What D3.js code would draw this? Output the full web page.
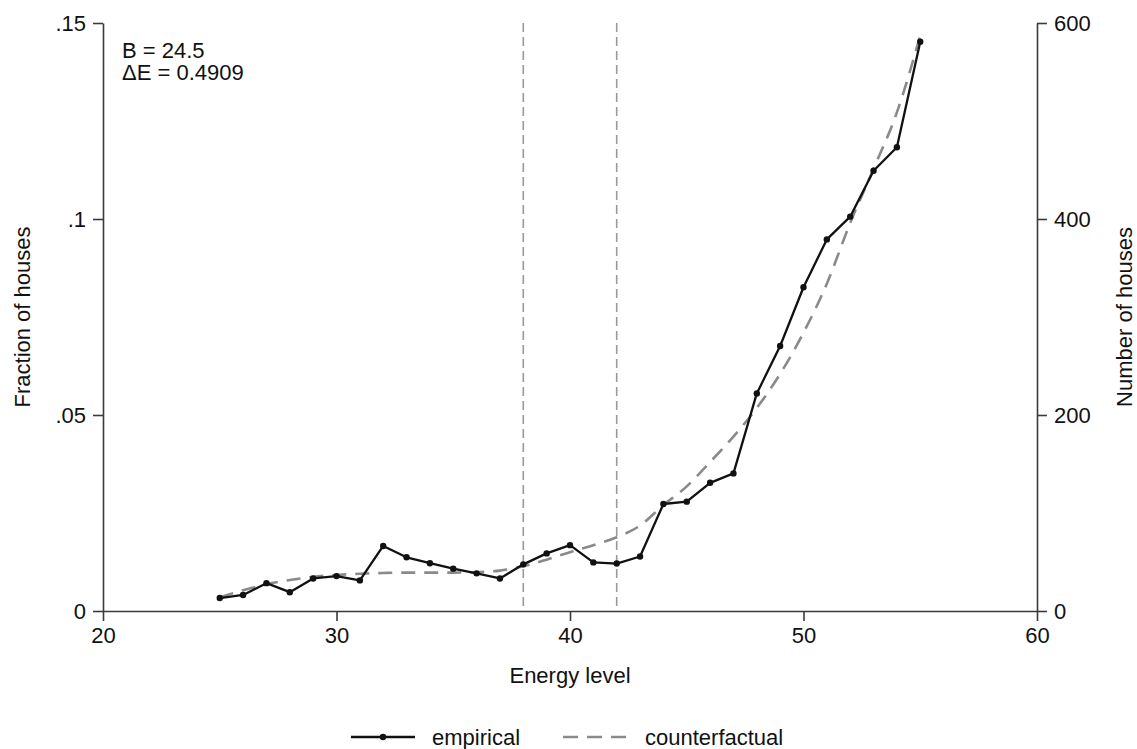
<!DOCTYPE html>
<html>
<head>
<meta charset="utf-8">
<script src="https://cdn.jsdelivr.net/npm/d3@7"></script>
<style>
  body { margin: 0; background: #fff; }
  svg text { font-family: "Liberation Sans", Arial, sans-serif; fill: #111; }
</style>
</head>
<body>
<svg id="chart" width="1137" height="749"></svg>
<script>
// Energy levels (x)
const energy = [25, 26, 27, 28, 29, 30, 31, 32, 33, 34, 35, 36, 37, 38, 39, 40,
                41, 42, 43, 44, 45, 46, 47, 48, 49, 50, 51, 52, 53, 54, 55];

// Empirical fraction of houses
const empirical = [0.0033, 0.0041, 0.0071, 0.0048, 0.0083, 0.0089, 0.0078, 0.0166,
                   0.0137, 0.0122, 0.0108, 0.0096, 0.0083, 0.0119, 0.0147, 0.0168,
                   0.0124, 0.0121, 0.0139, 0.0273, 0.0279, 0.0327, 0.0351, 0.0555,
                   0.0676, 0.0826, 0.0948, 0.1006, 0.1123, 0.1183, 0.1452];

// Counterfactual fraction of houses
const counterfactual = [0.0035, 0.0053, 0.0068, 0.0079, 0.0087, 0.0092, 0.0095, 0.0097,
                        0.0098, 0.0098, 0.0098, 0.0099, 0.0103, 0.0114, 0.0131, 0.0150,
                        0.0168, 0.0188, 0.0218, 0.0270, 0.0318, 0.0380, 0.0445, 0.0518,
                        0.0605, 0.0710, 0.0835, 0.0990, 0.1128, 0.1272, 0.1468];

// Bunching window bounds
const bounds = [38, 42];

// Tick values
const xTicks = [20, 30, 40, 50, 60];
const yTicks = [0, 0.05, 0.1, 0.15];
const yTickLabels = ['0', '.05', '.1', '.15'];
const y2Ticks = [0, 200, 400, 600];

const annotations = ['B = 24.5', '\u0394E = 0.4909'];

const svg = d3.select('#chart');
const width = +svg.attr('width');
const height = +svg.attr('height');
const margin = { top: 23, right: 100, bottom: 138, left: 103 };
const innerWidth = width - margin.left - margin.right;
const innerHeight = height - margin.top - margin.bottom;

const xScale = d3.scaleLinear().domain([20, 60]).range([0, innerWidth]);
const yScale = d3.scaleLinear().domain([0, 0.15]).range([innerHeight, 0]);
const y2Scale = d3.scaleLinear().domain([0, 600]).range([innerHeight, 0]);

const g = svg.append('g')
    .attr('transform', `translate(${margin.left},${margin.top})`);

const axisColor = '#3a3a3a';
const fontSize = 22;

function styleAxis(sel) {
    sel.select('.domain').attr('stroke', axisColor).attr('stroke-width', 1.6);
    sel.selectAll('.tick line').attr('stroke', axisColor).attr('stroke-width', 1.6);
    sel.selectAll('.tick text').style('font-size', fontSize + 'px').attr('fill', '#111');
}

// Left axis
g.append('g')
    .call(d3.axisLeft(yScale).tickValues(yTicks)
        .tickFormat((d, i) => yTickLabels[i]).tickSize(10).tickSizeOuter(0).tickPadding(7))
    .call(styleAxis);

// Right axis
g.append('g')
    .attr('transform', `translate(${innerWidth},0)`)
    .call(d3.axisRight(y2Scale).tickValues(y2Ticks).tickSize(10).tickSizeOuter(0).tickPadding(7))
    .call(styleAxis);

// Bottom axis
g.append('g')
    .attr('transform', `translate(0,${innerHeight})`)
    .call(d3.axisBottom(xScale).tickValues(xTicks).tickSize(10).tickSizeOuter(0).tickPadding(6))
    .call(styleAxis);

// Vertical bound lines
g.selectAll('.bound')
    .data(bounds)
    .enter().append('line')
    .attr('x1', d => xScale(d))
    .attr('x2', d => xScale(d))
    .attr('y1', 0)
    .attr('y2', innerHeight)
    .attr('stroke', '#9a9a9a')
    .attr('stroke-width', 1.6)
    .attr('stroke-dasharray', '9,5');

const points = energy.map((e, i) => ({ e, emp: empirical[i], cf: counterfactual[i] }));

// Counterfactual dashed curve
const cfLine = d3.line()
    .x(d => xScale(d.e))
    .y(d => yScale(d.cf))
    .curve(d3.curveMonotoneX);

g.append('path')
    .datum(points)
    .attr('fill', 'none')
    .attr('stroke', '#8a8a8a')
    .attr('stroke-width', 2.6)
    .attr('stroke-dasharray', '14,9')
    .attr('d', cfLine);

// Empirical line
const empLine = d3.line()
    .x(d => xScale(d.e))
    .y(d => yScale(d.emp));

g.append('path')
    .datum(points)
    .attr('fill', 'none')
    .attr('stroke', '#111')
    .attr('stroke-width', 2.3)
    .attr('stroke-linejoin', 'round')
    .attr('d', empLine);

g.selectAll('.dot')
    .data(points)
    .enter().append('circle')
    .attr('cx', d => xScale(d.e))
    .attr('cy', d => yScale(d.emp))
    .attr('r', 3.2)
    .attr('fill', '#111');

// Annotation
g.selectAll('.note')
    .data(annotations)
    .enter().append('text')
    .attr('x', 19)
    .attr('y', (d, i) => 35 + i * 22)
    .style('font-size', fontSize + 'px')
    .text(d => d);

// Axis titles
svg.append('text')
    .attr('transform', `translate(30,${margin.top + innerHeight / 2}) rotate(-90)`)
    .attr('text-anchor', 'middle')
    .style('font-size', fontSize + 'px')
    .text('Fraction of houses');

svg.append('text')
    .attr('transform', `translate(1132,${margin.top + innerHeight / 2}) rotate(-90)`)
    .attr('text-anchor', 'middle')
    .style('font-size', fontSize + 'px')
    .text('Number of houses');

svg.append('text')
    .attr('x', margin.left + innerWidth / 2)
    .attr('y', 683)
    .attr('text-anchor', 'middle')
    .style('font-size', fontSize + 'px')
    .text('Energy level');

// Legend
const legend = svg.append('g').attr('transform', 'translate(0,737)');

legend.append('line')
    .attr('x1', 351).attr('x2', 415).attr('y1', 0).attr('y2', 0)
    .attr('stroke', '#111').attr('stroke-width', 2.3);
legend.append('circle')
    .attr('cx', 383).attr('cy', 0).attr('r', 3.2).attr('fill', '#111');
legend.append('text')
    .attr('x', 432).attr('y', 8)
    .style('font-size', fontSize + 'px')
    .text('empirical');

legend.append('line')
    .attr('x1', 563).attr('x2', 629).attr('y1', 0).attr('y2', 0)
    .attr('stroke', '#8a8a8a').attr('stroke-width', 2.6)
    .attr('stroke-dasharray', '15,9');
legend.append('text')
    .attr('x', 645).attr('y', 8)
    .style('font-size', fontSize + 'px')
    .text('counterfactual');
</script>
</body>
</html>
